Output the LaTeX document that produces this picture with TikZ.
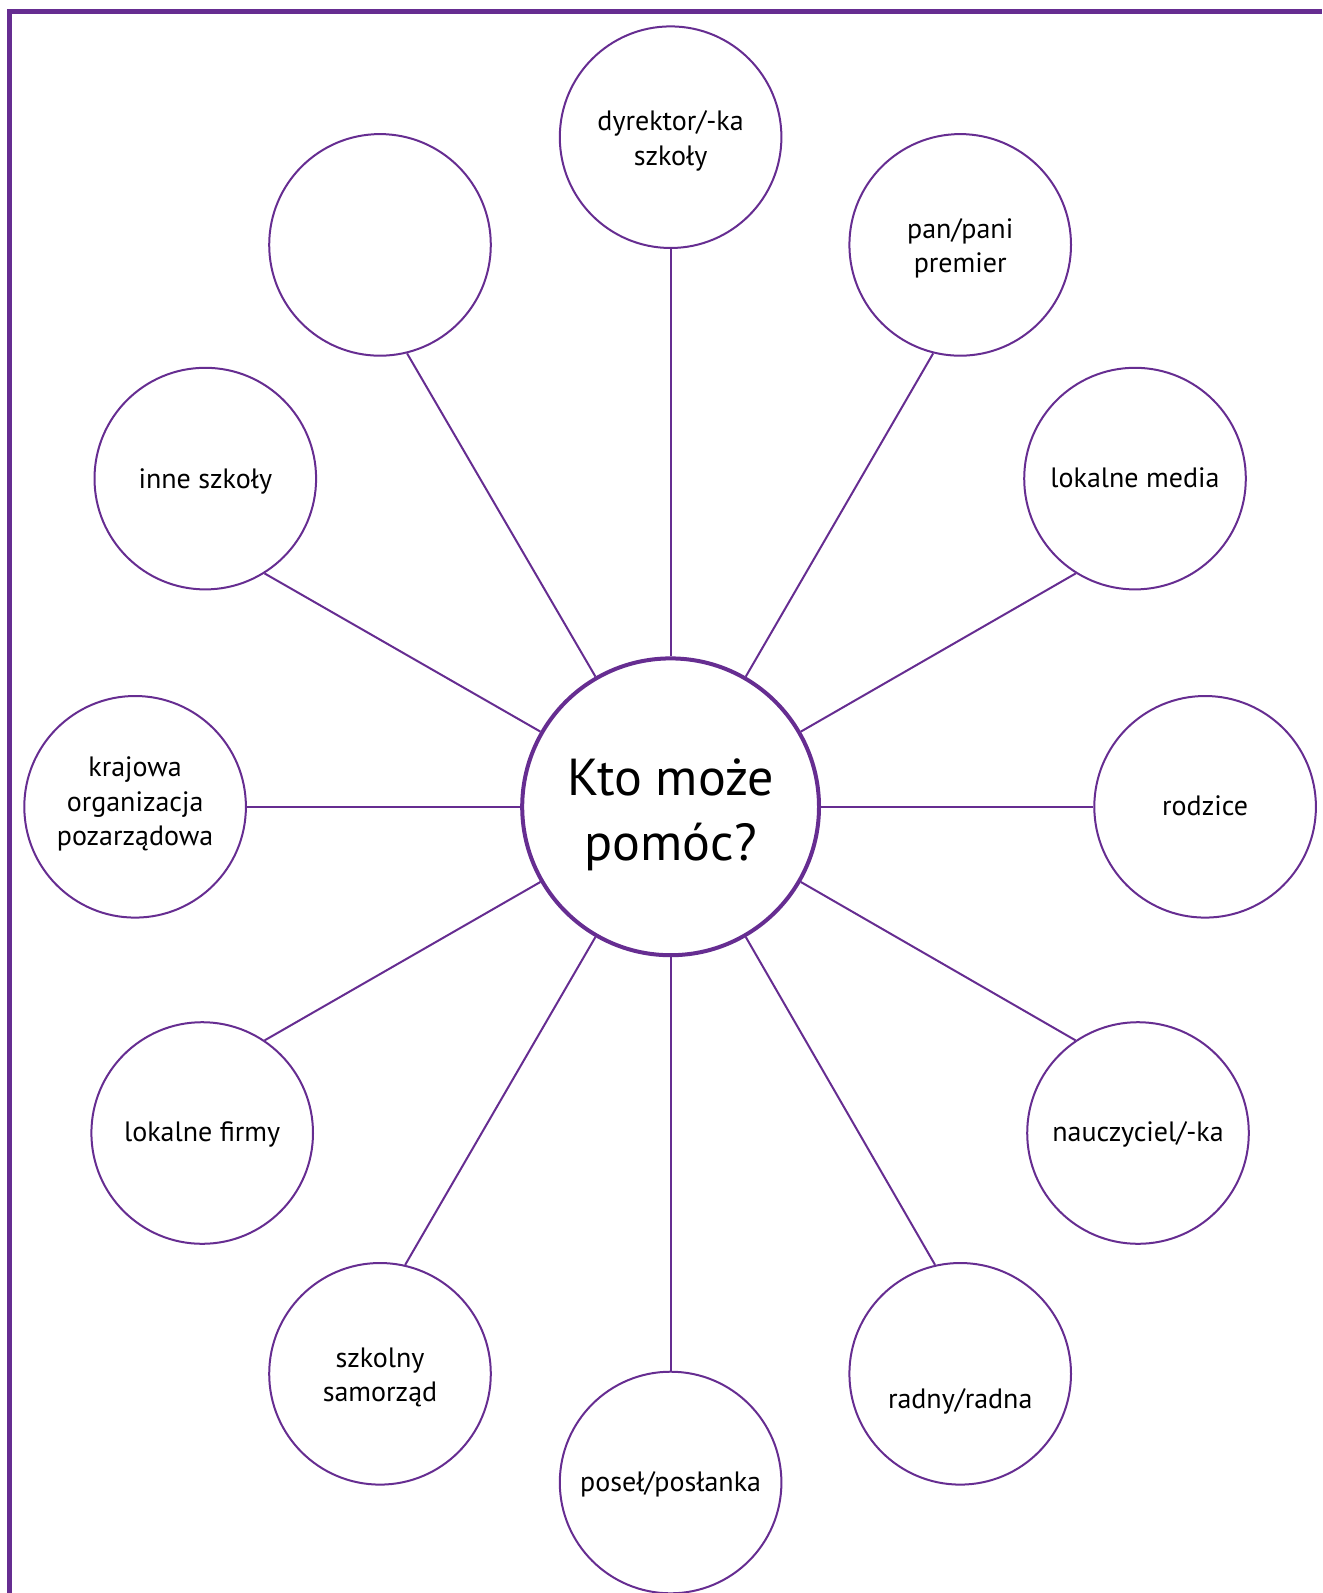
\documentclass[tikz,border=0pt]{standalone}
\usepackage{fontspec}
\setmainfont{PT Sans}
\usepackage{tikz}
\definecolor{ringpurple}{RGB}{102,45,145}
% text block moved up or down inside its circle
\newcommand\lifted[2]{\raisebox{#1}[\height][\depth]{\begin{tabular}{@{}c@{}}#2\end{tabular}}}

\begin{document}
\begin{tikzpicture}[x=0.5pt,y=-0.5pt,
    who/.style={circle,draw=ringpurple,line width=1pt,minimum size=110.8pt,
      inner sep=0pt,align=center,font=\fontsize{14}{17.3}\selectfont},
    hub/.style={circle,draw=ringpurple,line width=2pt,minimum size=148.4pt,
      inner sep=0pt,align=center,font=\fontsize{26}{32.5}\selectfont},
    spoke/.style={draw=ringpurple,line width=1pt}]
  \useasboundingbox (0,0) rectangle (1322,1593);
  \draw[ringpurple,line width=2.5pt] (9.7,1593) -- (9.7,11.5) -- (1322,11.5);

  \node[hub] (hub) at (670.6,806.8) {\lifted{-3.85pt}{Kto może\\pomóc?}};

  \node[who] (dyrektor) at (670.6,137.2) {\lifted{-1.9pt}{dyrektor/-ka\\szkoły}};
  \node[who] (premier) at (960.2,244.9) {\lifted{-1.9pt}{pan/pani\\premier}};
  \node[who] (media) at (1135.0,478.6) {\lifted{-1pt}{lokalne media}};
  \node[who] (rodzice) at (1205.1,806.8) {\lifted{-0.65pt}{rodzice}};
  \node[who] (nauczyciel) at (1138.0,1133.0) {\lifted{-1pt}{nauczyciel/-ka}};
  \node[who] (radny) at (960.2,1373.8) {\lifted{-13.65pt}{radny/radna}};
  \node[who] (posel) at (670.6,1482.5) {\lifted{-1.15pt}{poseł/posłanka}};
  \node[who] (samorzad) at (380.0,1373.8) {\lifted{-1.9pt}{szkolny\\samorząd}};
  \node[who] (firmy) at (202.2,1133.0) {\lifted{-1pt}{lokalne firmy}};
  \node[who] (krajowa) at (135.1,806.8) {\lifted{1.3pt}{krajowa\\organizacja\\pozarządowa}};
  \node[who] (inne) at (205.3,478.6) {\lifted{-1.4pt}{inne szkoły}};
  \node[who] (pusty) at (380.0,244.9) {};

  % spokes run at 30 degree steps from the hub
  \draw[spoke] (hub.90) -- (dyrektor.270);
  \draw[spoke] (hub.60) -- (premier.256);
  \draw[spoke] (hub.30) -- (media.238);
  \draw[spoke] (hub.0) -- (rodzice.180);
  \draw[spoke] (hub.-30) -- (nauczyciel.124);
  \draw[spoke] (hub.-60) -- (radny.103);
  \draw[spoke] (hub.-90) -- (posel.90);
  \draw[spoke] (hub.-120) -- (samorzad.77);
  \draw[spoke] (hub.-150) -- (firmy.56);
  \draw[spoke] (hub.180) -- (krajowa.0);
  \draw[spoke] (hub.150) -- (inne.302);
  \draw[spoke] (hub.120) -- (pusty.284);
\end{tikzpicture}
\end{document}
